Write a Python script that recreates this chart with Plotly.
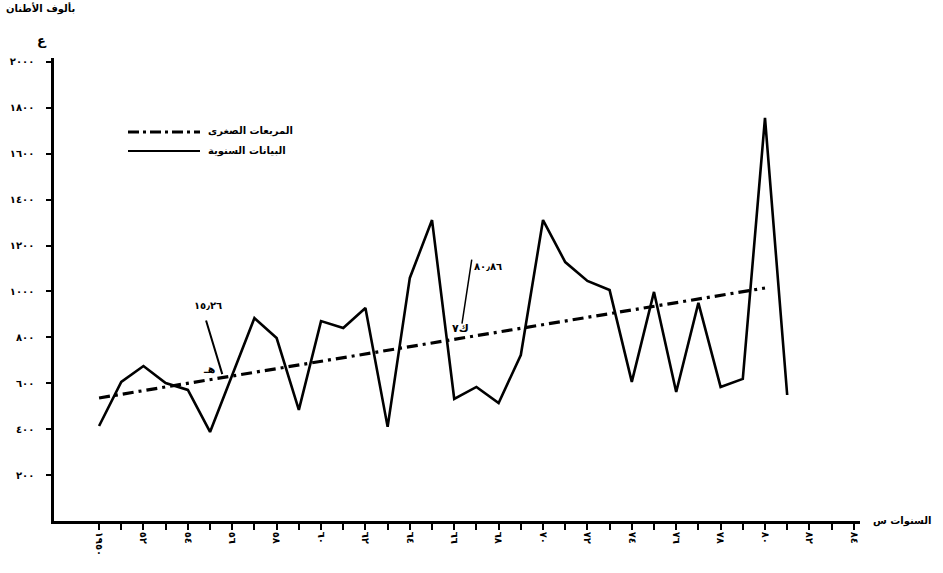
import plotly.graph_objects as go

# ---------------- data ----------------
first_year = 1950
years = list(range(first_year, first_year + 32))
annual_values = [414, 606, 675, 601, 571, 388, 636, 884, 797, 484,
                 871, 841, 928, 410, 1059, 1311, 532, 584, 514, 723,
                 1311, 1128, 1046, 1006, 606, 998, 562, 950, 584, 619,
                 1756, 549]
trend_years = [first_year, first_year + 30]
trend_values = [536, 1015]

y_tick_vals = [200, 400, 600, 800, 1000, 1200, 1400, 1600, 1800, 2000]
y_tick_text = ["٢٠٠", "٤٠٠", "٦٠٠", "٨٠٠", "١٠٠٠", "١٢٠٠", "١٤٠٠", "١٦٠٠", "١٨٠٠", "٢٠٠٠"]

x_tick_vals = list(range(first_year, first_year + 35))
arabic_digits = "٠١٢٣٤٥٦٧٨٩"
def to_ar(s):
    return "".join(arabic_digits[int(c)] if c.isdigit() else c for c in str(s))
x_tick_text = []
for i, yv in enumerate(x_tick_vals):
    if i % 2:
        x_tick_text.append("")
    elif i == 0:
        x_tick_text.append(to_ar(yv))
    else:
        x_tick_text.append(to_ar(yv % 100).rjust(2, "٠"))

legend_trend = "المربعات الصغرى"
legend_annual = "البيانات السنوية"
y_title = "بألوف الأطنان"
x_title = "السنوات س"

FONT = "DejaVu Sans"

# ---------------- figure ----------------
fig = go.Figure()
fig.add_trace(go.Scatter(x=years, y=annual_values, mode="lines", name=legend_annual,
                         line=dict(color="black", width=2.6), showlegend=False))
fig.add_trace(go.Scatter(x=trend_years, y=trend_values, mode="lines", name=legend_trend,
                         line=dict(color="black", width=3.2, dash="11px,5px,3px,5px"),
                         showlegend=False))

L, R, T, B = 54, 860, 58, 521
W, H = 943, 573

def px(xp):
    return (xp - L) / (R - L)

def py(yp):
    return (B - yp) / (B - T)

x0 = first_year - 2.03
x1 = first_year + 34.28
fig.update_layout(
    width=W, height=H, autosize=False,
    margin=dict(l=L, r=W - R, t=T, b=H - B, pad=0),
    paper_bgcolor="white", plot_bgcolor="white",
    font=dict(family=FONT, color="black", size=10),
    xaxis=dict(range=[x0, x1], tickvals=x_tick_vals, ticktext=x_tick_text,
               tickangle=90, ticks="outside", ticklen=6, tickwidth=1.5,
               tickcolor="black", showline=True, linecolor="black", linewidth=2.5,
               showgrid=False, zeroline=False, automargin=False,
               tickfont=dict(family=FONT, size=10, color="black", weight="bold")),
    yaxis=dict(range=[0, 2017], tickvals=y_tick_vals, ticktext=y_tick_text,
               ticks="outside", ticklen=5, tickwidth=1.5, tickcolor="black",
               showline=True, linecolor="black", linewidth=2.5,
               showgrid=False, zeroline=False, ticklabelstandoff=10, automargin=False,
               tickfont=dict(family=FONT, size=10, color="black", weight="bold")),
)

# legend drawn manually
fig.add_shape(type="line", xref="paper", yref="paper", x0=px(128), x1=px(200),
              y0=py(132), y1=py(132),
              line=dict(color="black", width=3, dash="11px,4px,3px,4px"))
fig.add_shape(type="line", xref="paper", yref="paper", x0=px(128), x1=px(200),
              y0=py(151), y1=py(151), line=dict(color="black", width=2))
fig.add_annotation(xref="paper", yref="paper", x=px(206), y=py(131), text=legend_trend,
                   showarrow=False, xanchor="left", yanchor="middle",
                   font=dict(family=FONT, size=10, color="black", weight="bold"))
fig.add_annotation(xref="paper", yref="paper", x=px(206), y=py(151), text=legend_annual,
                   showarrow=False, xanchor="left", yanchor="middle",
                   font=dict(family=FONT, size=10, color="black", weight="bold"))

# axis titles
fig.add_annotation(xref="paper", yref="paper", x=px(4), y=py(9), text=y_title,
                   showarrow=False, xanchor="left", yanchor="middle",
                   font=dict(family=FONT, size=10, color="black", weight="bold"))
fig.add_annotation(xref="paper", yref="paper", x=px(42), y=py(40), text="ع",
                   showarrow=False, xanchor="center", yanchor="middle",
                   font=dict(family=FONT, size=13, color="black", weight="bold"))
fig.add_annotation(xref="paper", yref="paper", x=px(933), y=py(521), text=x_title,
                   showarrow=False, xanchor="right", yanchor="middle",
                   font=dict(family=FONT, size=10, color="black", weight="bold"))

# in-plot annotations (trend labels)
fig.add_annotation(x=first_year + 5.55, y=640, ax=first_year + 4.8, ay=880,
                   axref="x", ayref="y", text="", showarrow=True, arrowhead=0,
                   arrowwidth=2, arrowcolor="black")
fig.add_annotation(x=first_year + 4.9, y=905, text="١٥٫٢٦", showarrow=False,
                   xanchor="center", yanchor="bottom",
                   font=dict(family=FONT, size=10, color="black", weight="bold"))
fig.add_annotation(x=first_year + 4.95, y=660, text="هـ", showarrow=False,
                   xanchor="center", yanchor="middle",
                   font=dict(family=FONT, size=11, color="black", weight="bold"))
fig.add_annotation(x=first_year + 16.35, y=860, ax=first_year + 16.8, ay=1145,
                   axref="x", ayref="y", text="", showarrow=True, arrowhead=0,
                   arrowwidth=1.5, arrowcolor="black")
fig.add_annotation(x=first_year + 16.8, y=1110, text="٨٠٫٨٦", showarrow=False,
                   xanchor="left", yanchor="middle",
                   font=dict(family=FONT, size=10, color="black", weight="bold"))
fig.add_annotation(x=first_year + 16.3, y=840, text="ك٧", showarrow=False,
                   xanchor="center", yanchor="middle",
                   font=dict(family=FONT, size=11, color="black", weight="bold"))

# remove the default page margin so the figure fills the window exactly
fig.write_html("out.html", config={"displayModeBar": False},
               post_script="document.body.style.margin='0';")
